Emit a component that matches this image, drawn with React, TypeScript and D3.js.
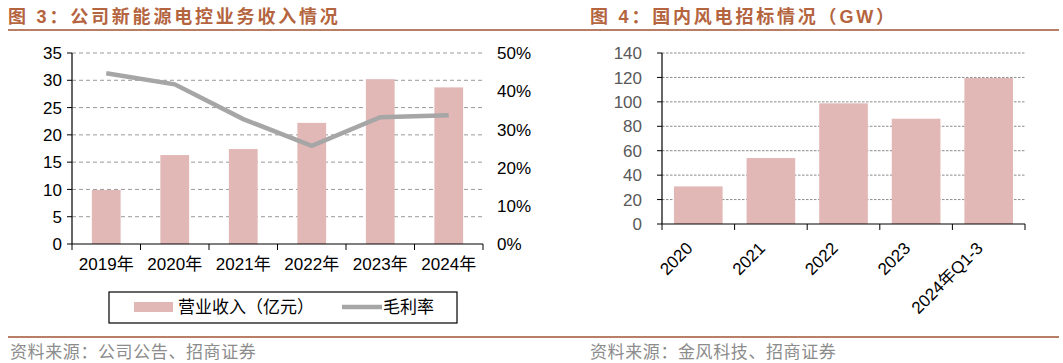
import React from 'react'
import * as d3 from 'd3'

// left panel data
const years = ['2019年', '2020年', '2021年', '2022年', '2023年', '2024年']
const revenue = [9.9, 16.3, 17.4, 22.2, 30.2, 28.7]
const margin = [44.7, 41.8, 32.7, 25.7, 33.2, 33.7]
const revTicks = [0, 5, 10, 15, 20, 25, 30, 35]
const pctTicks = [0, 10, 20, 30, 40, 50]

// right panel data
const bidCats = ['2020', '2021', '2022', '2023', '2024年Q1-3']
const bidValues = [30.8, 54.0, 98.8, 86.2, 119.5]
const bidTicks = [0, 20, 40, 60, 80, 100, 120, 140]

const W = 1063
const H = 363
const barColor = '#e2b8b7'
const lineColor = '#a6a6a6'
const brown = '#b97e66'
const titleColor = '#b4643e'
const numFont = '"Liberation Sans", Arial, sans-serif'
const cjkFont = '"Liberation Sans", "Noto Sans CJK SC", sans-serif'

function LeftChart() {
  const x = d3.scaleBand().domain(years).range([72, 483]).paddingInner(0.58).paddingOuter(0.29)
  const y = d3.scaleLinear().domain([0, 35]).range([244, 53])
  const y2 = d3.scaleLinear().domain([0, 50]).range([244, 53])
  const line = d3.line<number>()
    .x((d, i) => (x(years[i]) as number) + x.bandwidth() / 2)
    .y(d => y2(d))
  const step = 411 / years.length

  return (
    <g>
      {revTicks.slice(1).map(t => (
        <line key={'g' + t} x1={72} x2={483} y1={y(t)} y2={y(t)} stroke="#9a9a9a" strokeDasharray="4,3" />
      ))}
      {years.map((c, i) => (
        <rect key={c} x={x(c)} y={y(revenue[i])} width={x.bandwidth()} height={244 - y(revenue[i])} fill={barColor} />
      ))}
      <path d={line(margin) || ''} fill="none" stroke={lineColor} strokeWidth={4.5} />
      <line x1={72} x2={72} y1={53} y2={244} stroke="#000" strokeWidth={1.2} />
      <line x1={72} x2={483} y1={244} y2={244} stroke="#000" strokeWidth={1.2} />
      {revTicks.map(t => (
        <g key={'t' + t}>
          <line x1={67} x2={72} y1={y(t)} y2={y(t)} stroke="#000" />
          <text x={62} y={y(t)} dy="0.36em" textAnchor="end" fontSize={17} fontFamily={numFont} fill="#000">{t}</text>
        </g>
      ))}
      {pctTicks.map(t => (
        <text key={'p' + t} x={497} y={y2(t)} dy="0.36em" fontSize={17} fontFamily={numFont} fill="#000">{t}%</text>
      ))}
      {d3.range(years.length + 1).map(i => (
        <line key={'xt' + i} x1={72 + i * step} x2={72 + i * step} y1={244} y2={250} stroke="#000" />
      ))}
      {years.map(c => (
        <text key={'xl' + c} x={(x(c) as number) + x.bandwidth() / 2} y={270} textAnchor="middle" fontSize={17} fontFamily={cjkFont} fill="#000">{c}</text>
      ))}
      {/* legend */}
      <rect x={109} y={292} width={348} height={31} fill="#fff" stroke="#000" strokeWidth={1.2} />
      <rect x={134} y={302} width={39} height={10} fill={barColor} />
      <text x={178} y={307} dy="0.36em" fontSize={17} fontFamily={cjkFont} fill="#000">营业收入（亿元）</text>
      <line x1={342} x2={382} y1={307} y2={307} stroke={lineColor} strokeWidth={4.5} />
      <text x={383} y={307} dy="0.36em" fontSize={17} fontFamily={cjkFont} fill="#000">毛利率</text>
    </g>
  )
}

function RightChart() {
  const x = d3.scaleBand().domain(bidCats).range([662, 1025]).paddingInner(0.33).paddingOuter(0.165)
  const y = d3.scaleLinear().domain([0, 140]).range([224, 53])
  const step = 363 / bidCats.length
  return (
    <g>
      {bidTicks.slice(1).map(t => (
        <line key={'g' + t} x1={662} x2={1025} y1={y(t)} y2={y(t)} stroke="#8c8c8c" strokeDasharray="2.5,1.5" />
      ))}
      {bidCats.map((c, i) => (
        <rect key={c} x={x(c)} y={y(bidValues[i])} width={x.bandwidth()} height={224 - y(bidValues[i])} fill={barColor} />
      ))}
      <line x1={662} x2={662} y1={53} y2={224} stroke="#000" strokeWidth={1.2} />
      <line x1={662} x2={1025} y1={224} y2={224} stroke="#000" strokeWidth={1.2} />
      {bidTicks.map(t => (
        <g key={'t' + t}>
          <line x1={657} x2={662} y1={y(t)} y2={y(t)} stroke="#000" />
          <text x={642} y={y(t)} dy="0.36em" textAnchor="end" fontSize={17} fontFamily={numFont} fill="#595959">{t}</text>
        </g>
      ))}
      {d3.range(bidCats.length + 1).map(i => (
        <line key={'xt' + i} x1={662 + i * step} x2={662 + i * step} y1={224} y2={230} stroke="#000" />
      ))}
      {bidCats.map(c => {
        const cx = (x(c) as number) + x.bandwidth() / 2 - 9
        return (
          <text key={'xl' + c} transform={`translate(${cx},${245}) rotate(-45)`} textAnchor="end" dy="0.36em"
            fontSize={17} fontFamily={cjkFont} fill="#000">{c}</text>
        )
      })}
    </g>
  )
}

export default function App() {
  return (
    <svg width={W} height={H} style={{ position: 'absolute', left: 0, top: 0, background: '#fff' }}>
      <rect width={W} height={H} fill="#fff" />
      <text x={8} y={17} dy="0.36em" fontSize={18} fontWeight="bold" letterSpacing={2.8} fontFamily={cjkFont} fill={titleColor}>图 3：公司新能源电控业务收入情况</text>
      <text x={590} y={17} dy="0.36em" fontSize={18} fontWeight="bold" letterSpacing={2.8} fontFamily={cjkFont} fill={titleColor}>图 4：国内风电招标情况（GW）</text>
      <line x1={8} x2={1059} y1={30} y2={30} stroke={brown} strokeWidth={2} />
      <LeftChart />
      <RightChart />
      <line x1={8} x2={1059} y1={337} y2={337} stroke={brown} strokeWidth={2} />
      <text x={10} y={352} dy="0.36em" fontSize={17} letterSpacing={0.6} fontFamily='"Noto Sans CJK SC", sans-serif' fill="#8c8c8c">资料来源：公司公告、招商证券</text>
      <text x={590} y={352} dy="0.36em" fontSize={17} letterSpacing={0.6} fontFamily='"Noto Sans CJK SC", sans-serif' fill="#8c8c8c">资料来源：金风科技、招商证券</text>
    </svg>
  )
}
